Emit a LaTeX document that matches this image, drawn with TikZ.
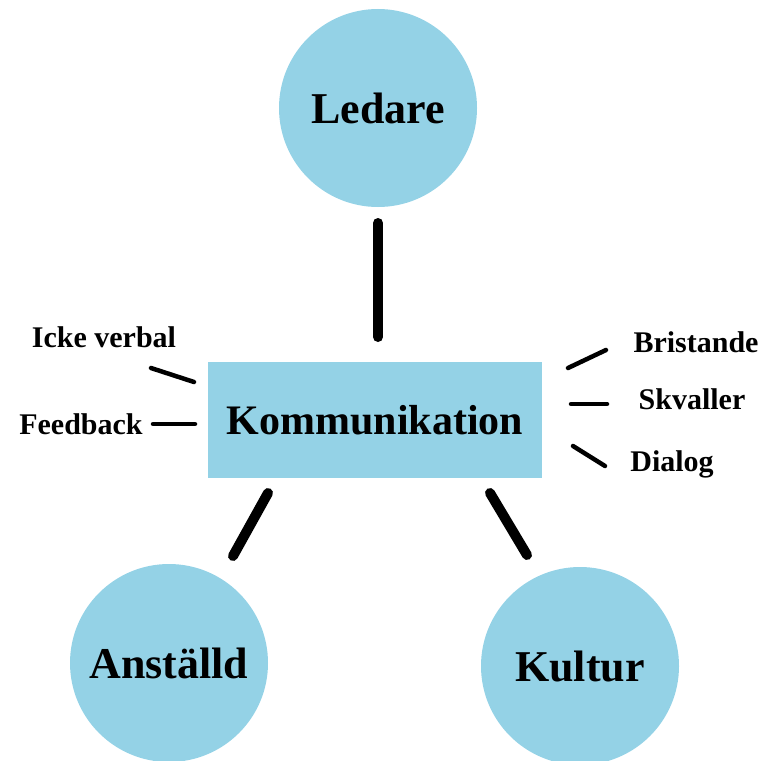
\documentclass[tikz,border=0pt]{standalone}
\usepackage{fontspec}
\setmainfont{Liberation Serif}
\definecolor{boxblue}{RGB}{148,210,230}
\begin{document}
\begin{tikzpicture}[x=1pt,y=-1pt,
  bubble/.style={circle,fill=boxblue,minimum size=198pt,inner sep=0pt,font=\fontsize{44}{48}\selectfont\bfseries},
  centerbox/.style={rectangle,fill=boxblue,minimum width=334pt,minimum height=116pt,inner sep=0pt,font=\fontsize{42}{48}\selectfont\bfseries},
  small/.style={font=\fontsize{30}{33}\selectfont\bfseries,inner sep=0pt},
  bigline/.style={line width=10pt,line cap=round},
  thinline/.style={line width=4.5pt,line cap=round}]
\useasboundingbox (0,0) rectangle (767,760);
\node[bubble] (led) at (378,108) {Ledare};
\node[bubble] (ans) at (169,663) {Anställd};
\node[bubble] (kul) at (580,666) {Kultur};
\node[centerbox] (kom) at (375,420) {Kommunikation};
\node[small] (icke) at (104,337) {Icke verbal};
\node[small] (feed) at (81,424) {Feedback};
\node[small] (bri) at (696,342) {Bristande};
\node[small] (skv) at (692,399) {Skvaller};
\node[small] (dia) at (672,464) {Dialog};
\coordinate (l1a) at (378,223); \coordinate (l1b) at (378,337);
\coordinate (l2a) at (268,493); \coordinate (l2b) at (233,556);
\coordinate (l3a) at (490,493); \coordinate (l3b) at (527,555);
\draw[bigline] (l1a) -- (l1b);
\draw[bigline] (l2a) -- (l2b);
\draw[bigline] (l3a) -- (l3b);
\coordinate (s1a) at (151,368); \coordinate (s1b) at (194,382);
\coordinate (s2a) at (153,424); \coordinate (s2b) at (195,424);
\coordinate (s3a) at (568,368); \coordinate (s3b) at (606,350);
\coordinate (s4a) at (571,404); \coordinate (s4b) at (607,404);
\coordinate (s5a) at (573,446); \coordinate (s5b) at (605,466);
\draw[thinline] (s1a) -- (s1b);
\draw[thinline] (s2a) -- (s2b);
\draw[thinline] (s3a) -- (s3b);
\draw[thinline] (s4a) -- (s4b);
\draw[thinline] (s5a) -- (s5b);
\end{tikzpicture}
\end{document}
